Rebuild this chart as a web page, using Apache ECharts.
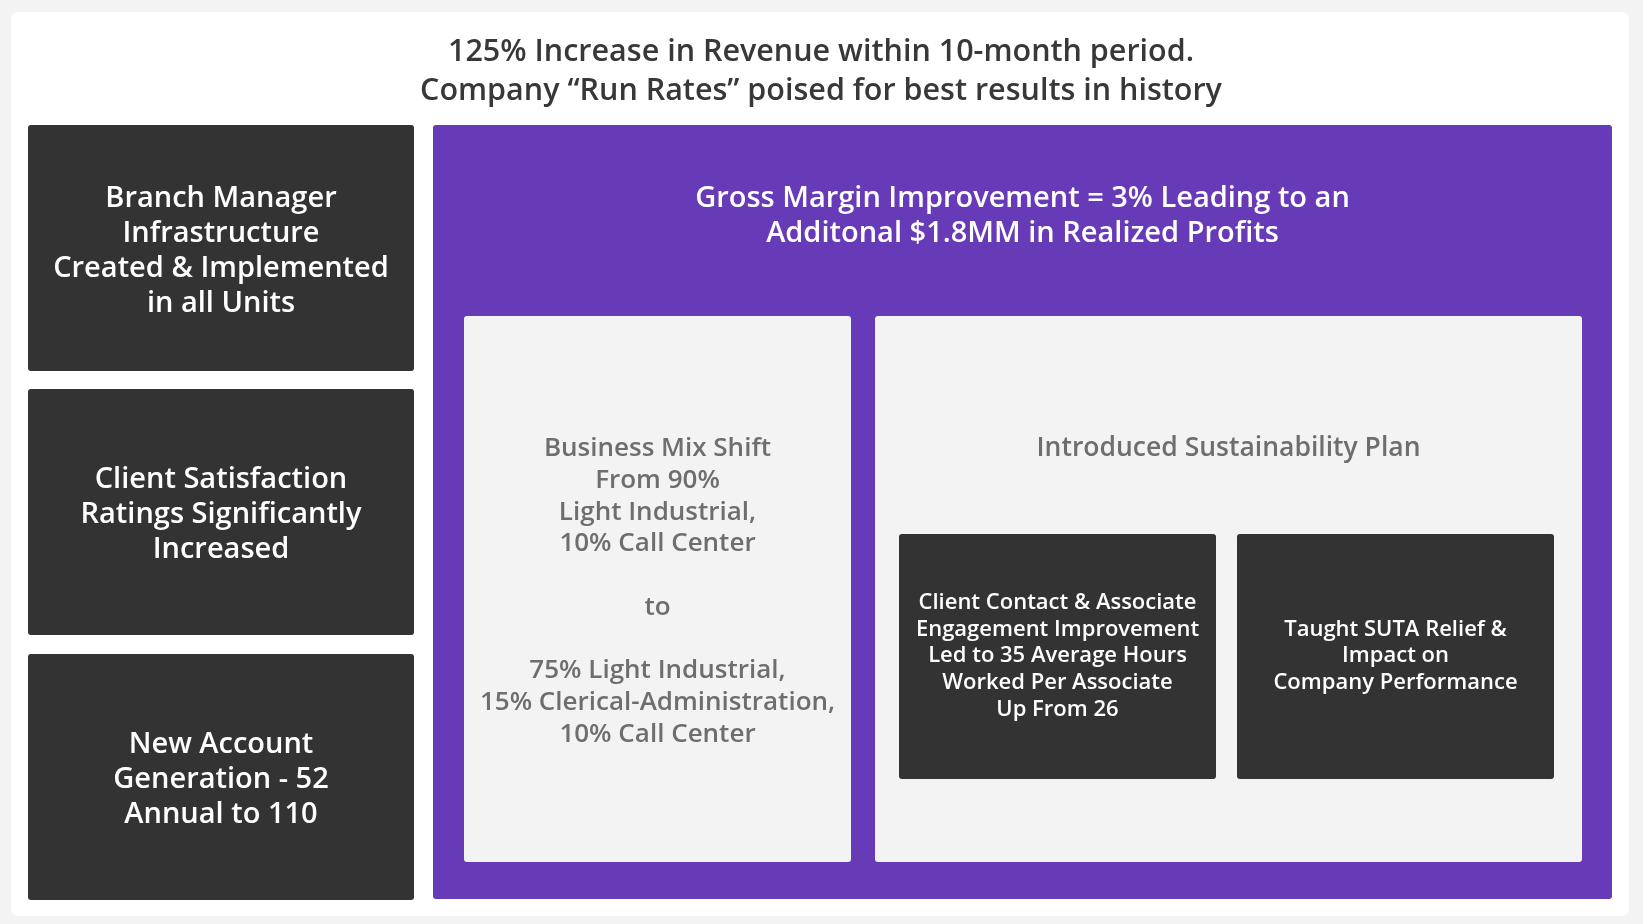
<!DOCTYPE html>
<html>
<head>
<meta charset="utf-8">
<script src="https://cdn.jsdelivr.net/npm/echarts@6/dist/echarts.min.js"></script>
<style>
html,body{margin:0;padding:0;background:#f3f3f3;}
#chart{width:1643px;height:924px;}
</style>
</head>
<body>
<div id="chart"></div>
<script>
// ---- content ----
var titleLines = ['125% Increase in Revenue within 10-month period.', 'Company \u201cRun Rates\u201d poised for best results in history'];
var leftBoxTexts = [
  'Branch Manager\nInfrastructure\nCreated & Implemented\nin all Units',
  'Client Satisfaction\nRatings Significantly\nIncreased',
  'New Account\nGeneration - 52\nAnnual to 110'
];
var headerLines = ['Gross Margin Improvement = 3% Leading to an', 'Additonal $1.8MM in Realized Profits'];
var mixShiftLines = ['Business Mix Shift', 'From 90%', 'Light Industrial,', '10% Call Center', '', 'to', '', '75% Light Industrial,', '15% Clerical-Administration,', '10% Call Center'];
var sustainTitle = 'Introduced Sustainability Plan';
var sustainBoxTexts = [
  'Client Contact & Associate\nEngagement Improvement\nLed to 35 Average Hours\nWorked Per Associate\nUp From 26',
  'Taught SUTA Relief &\nImpact on\nCompany Performance'
];

// ---- styling ----
var FONT = '"Open Sans", "Noto Sans", sans-serif';
var DARK = '#333333', PURPLE = '#673ab7', LIGHT = '#f3f3f3', GREY = '#6e6e6e';

function box(x, y, w, h, fill, r) {
  return { type: 'rect', shape: { x: x, y: y, width: w, height: h, r: r || 3 }, style: { fill: fill } };
}
function label(text, cx, cy, size, weight, color, lh) {
  return { type: 'text', style: { text: text, x: cx, y: cy + size * 0.1, align: 'center', verticalAlign: 'middle',
    fontSize: size, fontWeight: weight, fontFamily: FONT, fill: color, lineHeight: lh } };
}

var els = [];
// white panel
els.push(box(11, 12, 1618, 904, '#ffffff', 6));
// title
els.push(label(titleLines.join('\n'), 821, 69, 30.5, 600, '#383838', 38.5));
// left boxes
var leftTops = [125, 389, 654], leftH = 246;
leftBoxTexts.forEach(function (t, i) {
  els.push(box(28, leftTops[i], 386, leftH, DARK, 3));
  els.push(label(t, 221, leftTops[i] + leftH / 2, 29, 600, '#ffffff', 35));
});
// purple panel
els.push(box(433, 125, 1179, 774, PURPLE, 3));
els.push(label(headerLines.join('\n'), 1022.5, 213, 29, 600, '#ffffff', 35));
// business mix box
els.push(box(464, 316, 387, 546, LIGHT, 3));
els.push(label(mixShiftLines.join('\n'), 657.5, 589, 26, 600, GREY, 31.7));
// sustainability box
els.push(box(875, 316, 707, 546, LIGHT, 3));
els.push(label(sustainTitle, 1228.5, 446, 26.5, 600, GREY, 31.7));
var subX = [899, 1237], subW = 317;
sustainBoxTexts.forEach(function (t, i) {
  els.push(box(subX[i], 534, subW, 245, DARK, 3));
  els.push(label(t, subX[i] + subW / 2, 654, 22, 600, '#ffffff', 26.6));
});

var chart = echarts.init(document.getElementById('chart'), null, { renderer: 'canvas' });
chart.setOption({
  backgroundColor: '#f3f3f3',
  animation: false,
  graphic: { elements: els }
});
</script>
</body>
</html>
